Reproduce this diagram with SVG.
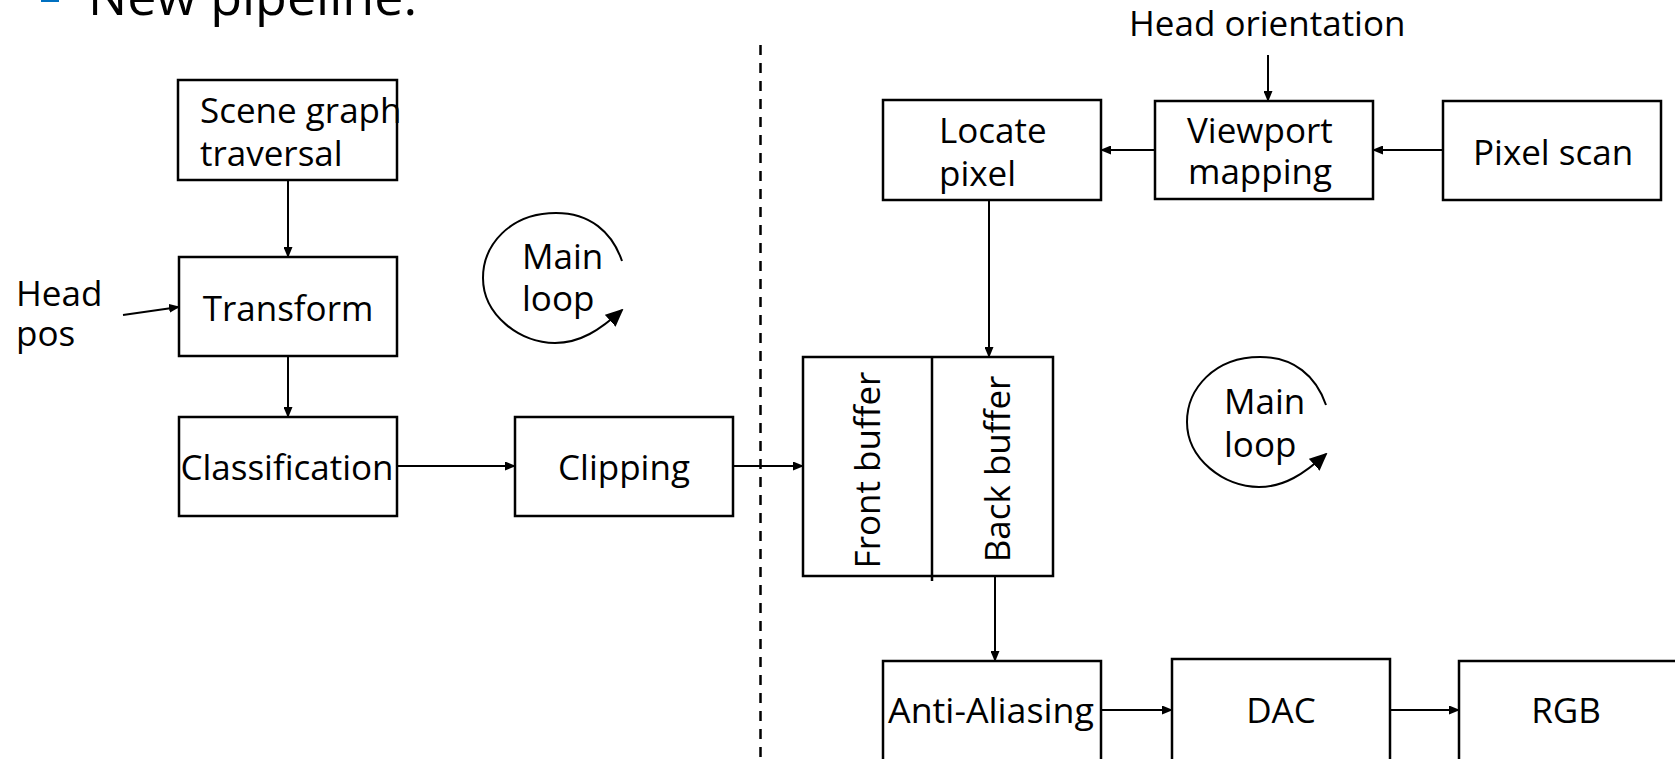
<svg xmlns="http://www.w3.org/2000/svg" width="1675" height="759" viewBox="0 0 1675 759">
<style>
  .box{fill:#fff;stroke:#000;stroke-width:2.5}
  .t{font-family:"Open Sans","Noto Sans","DejaVu Sans",sans-serif;font-size:35px;fill:#000}
  .c{text-anchor:middle}
  .ln{stroke:#000;stroke-width:2;fill:none}
</style>
<defs>
  <marker id="ah" markerUnits="userSpaceOnUse" markerWidth="11" markerHeight="9" refX="10" refY="4.5" orient="auto">
    <path d="M0,0 L11,4.5 L0,9 z" fill="#000"/>
  </marker>
  <marker id="ahBig" markerUnits="userSpaceOnUse" markerWidth="18" markerHeight="16" refX="16" refY="8" orient="auto">
    <path d="M0,0 L18,8 L0,16 z" fill="#000"/>
  </marker>
</defs>
<rect width="1675" height="759" fill="#fff"/>

<g id="title">
  <rect x="41" y="-2" width="18" height="4" fill="#0070C0"/>
  <text x="88" y="15" font-family="Open Sans, Noto Sans, sans-serif" font-size="52">New pipeline:</text>
</g>

<g id="divider">
  <line x1="760.5" y1="45" x2="760.5" y2="759" stroke="#000" stroke-width="2.5" stroke-dasharray="10 8"/>
</g>

<g id="connectors">
  <line class="ln" x1="288" y1="180" x2="288" y2="257" marker-end="url(#ah)"/>
  <line class="ln" x1="288" y1="356" x2="288" y2="417" marker-end="url(#ah)"/>
  <line class="ln" x1="123" y1="315" x2="179" y2="307" marker-end="url(#ah)"/>
  <line class="ln" x1="397" y1="466" x2="515" y2="466" marker-end="url(#ah)"/>
  <line class="ln" x1="733" y1="466" x2="803" y2="466" marker-end="url(#ah)"/>
  <line class="ln" x1="1268" y1="55" x2="1268" y2="101" marker-end="url(#ah)"/>
  <line class="ln" x1="1155" y1="150" x2="1101" y2="150" marker-end="url(#ah)"/>
  <line class="ln" x1="1443" y1="150" x2="1373" y2="150" marker-end="url(#ah)"/>
  <line class="ln" x1="989" y1="200" x2="989" y2="357" marker-end="url(#ah)"/>
  <line class="ln" x1="995" y1="577" x2="995" y2="661" marker-end="url(#ah)"/>
  <line class="ln" x1="1101" y1="710" x2="1172" y2="710" marker-end="url(#ah)"/>
  <line class="ln" x1="1390" y1="710" x2="1459" y2="710" marker-end="url(#ah)"/>
</g>

<g id="loop1">
  <path class="ln" d="M622,261 C612,232 590,213 556,213 C510,213 483,245 483,278 C483,315 520,343 555,343 C580,343 600,330 622,310" marker-end="url(#ahBig)"/>
  <text class="t" x="522" y="269">Main</text>
  <text class="t" x="522" y="311">loop</text>
</g>

<g id="loop2">
  <path class="ln" d="M1326,405 C1316,376 1294,357 1260,357 C1214,357 1187,389 1187,422 C1187,459 1224,487 1259,487 C1284,487 1304,474 1326,454" marker-end="url(#ahBig)"/>
  <text class="t" x="1224" y="414">Main</text>
  <text class="t" x="1224" y="457">loop</text>
</g>

<g id="scene-graph">
  <rect class="box" x="178" y="80" width="219" height="100"/>
  <text class="t" x="200" y="123">Scene graph</text>
  <text class="t" x="200" y="166">traversal</text>
</g>

<g id="head-pos">
  <text class="t" x="16" y="306">Head</text>
  <text class="t" x="16" y="346">pos</text>
</g>

<g id="transform">
  <rect class="box" x="179" y="257" width="218" height="99"/>
  <text class="t c" x="288" y="321">Transform</text>
</g>

<g id="classification">
  <rect class="box" x="179" y="417" width="218" height="99"/>
  <text class="t c" x="287" y="480">Classification</text>
</g>

<g id="clipping">
  <rect class="box" x="515" y="417" width="218" height="99"/>
  <text class="t c" x="624" y="480">Clipping</text>
</g>

<g id="head-orientation">
  <text class="t" x="1129" y="36">Head orientation</text>
</g>

<g id="locate-pixel">
  <rect class="box" x="883" y="100" width="218" height="100"/>
  <text class="t" x="939" y="143">Locate</text>
  <text class="t" x="939" y="186">pixel</text>
</g>

<g id="viewport-mapping">
  <rect class="box" x="1155" y="101" width="218" height="98"/>
  <text class="t" x="1187" y="143">Viewport</text>
  <text class="t" x="1188" y="184">mapping</text>
</g>

<g id="pixel-scan">
  <rect class="box" x="1443" y="101" width="218" height="99"/>
  <text class="t" x="1473" y="165">Pixel scan</text>
</g>

<g id="buffers">
  <rect class="box" x="803" y="357" width="250" height="219"/>
  <line x1="932" y1="357" x2="932" y2="581" stroke="#000" stroke-width="2.5"/>
  <text class="t c" transform="translate(880,470) rotate(-90)">Front buffer</text>
  <text class="t c" transform="translate(1010,469) rotate(-90)">Back buffer</text>
</g>

<g id="anti-aliasing">
  <rect class="box" x="883" y="661" width="218" height="110"/>
  <text class="t" x="888" y="723" textLength="206" lengthAdjust="spacingAndGlyphs">Anti-Aliasing</text>
</g>

<g id="dac">
  <rect class="box" x="1172" y="659" width="218" height="112"/>
  <text class="t c" x="1281" y="723">DAC</text>
</g>

<g id="rgb">
  <rect class="box" x="1459" y="661" width="240" height="110"/>
  <text class="t c" x="1566" y="723">RGB</text>
</g>
</svg>
